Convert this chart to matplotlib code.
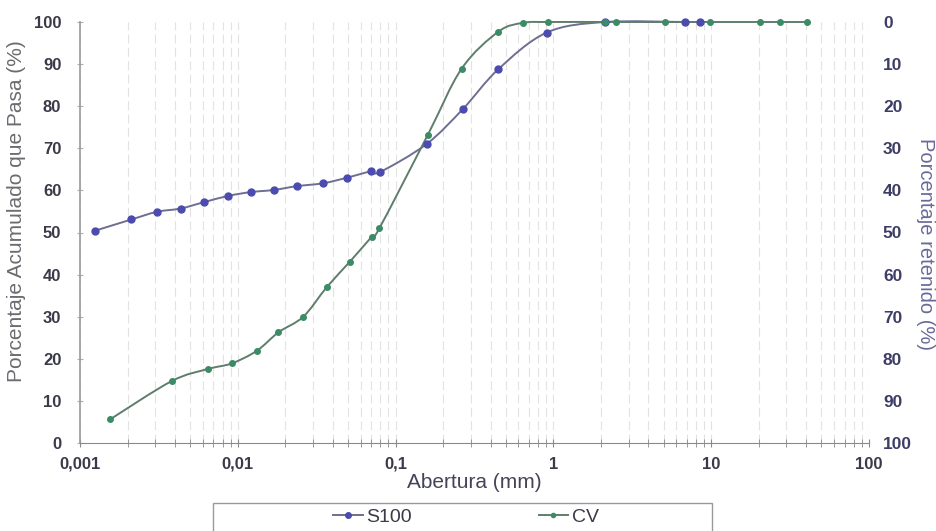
import numpy as np
import matplotlib
matplotlib.use("Agg")
import matplotlib.pyplot as plt
from matplotlib.path import Path
from matplotlib.patches import PathPatch, Rectangle
from matplotlib.ticker import FixedLocator, LogLocator, NullFormatter

plt.rcParams['font.family'] = ['Liberation Sans', 'DejaVu Sans']

# grain size curves
s100_x = [0.00124, 0.00212, 0.00306, 0.00434, 0.0061, 0.0087, 0.0121, 0.0169,
          0.0236, 0.0348, 0.049, 0.0695, 0.080, 0.157, 0.268, 0.448, 0.908,
          2.12, 6.8, 8.5]
s100_y = [50.4, 53.1, 54.9, 55.7, 57.2, 58.7, 59.6, 60.1, 61.0, 61.7, 63.0,
          64.5, 64.4, 71.0, 79.4, 88.8, 97.5, 100, 100, 100]

cv_x = [0.00155, 0.00381, 0.0065, 0.00914, 0.0132, 0.0181, 0.026, 0.0366,
        0.0514, 0.0706, 0.0789, 0.160, 0.262, 0.448, 0.644, 0.93, 2.12, 2.5,
        5.1, 9.8, 20.4, 27.3, 40.3]
cv_y = [5.6, 14.7, 17.6, 18.9, 21.9, 26.3, 30.0, 37.0, 43.1, 49.0, 51.0, 73.2,
        88.9, 97.7, 99.8, 100, 100, 100, 100, 100, 100, 100, 100]

x_ticks = [0.001, 0.01, 0.1, 1, 10, 100]
x_labels = ["0,001", "0,01", "0,1", "1", "10", "100"]
y_ticks = list(range(0, 101, 10))


def smooth_path(xs, ys):
    # Excel style smoothed line: Catmull-Rom segments as cubic Beziers in log-x space
    lx = np.log10(xs)
    yy = np.asarray(ys, dtype=float)
    n = len(lx)
    verts = [(xs[0], yy[0])]
    codes = [Path.MOVETO]
    for i in range(n - 1):
        p0 = max(i - 1, 0)
        p3 = min(i + 2, n - 1)
        c1x = lx[i] + (lx[i + 1] - lx[p0]) / 6
        c1y = yy[i] + (yy[i + 1] - yy[p0]) / 6
        c2x = lx[i + 1] - (lx[p3] - lx[i]) / 6
        c2y = yy[i + 1] - (yy[p3] - yy[i]) / 6
        verts += [(10 ** c1x, c1y), (10 ** c2x, c2y), (xs[i + 1], yy[i + 1])]
        codes += [Path.CURVE4] * 3
    return Path(verts, codes)


fig = plt.figure(figsize=(9.36, 5.31), dpi=100)
ax = fig.add_axes([80 / 936, 1 - 443 / 531, 789 / 936, 421 / 531])

ax.set_xscale("log")
ax.set_xlim(0.001, 100)
ax.set_ylim(0, 100)

s100_line = "#6e6e92"
s100_mark = "#4b4bb0"
cv_line = "#5f7d6c"
cv_mark = "#3b8c66"

ax.add_patch(PathPatch(smooth_path(s100_x, s100_y), fill=False,
                       edgecolor=s100_line, lw=1.4, zorder=3, clip_on=False))
ax.add_patch(PathPatch(smooth_path(cv_x, cv_y), fill=False,
                       edgecolor=cv_line, lw=1.4, zorder=3, clip_on=False))
ax.plot(s100_x, s100_y, linestyle="none", marker="o", ms=5,
        color=s100_mark, zorder=4, clip_on=False)
ax.plot(cv_x, cv_y, linestyle="none", marker="o", ms=4,
        color=cv_mark, zorder=4, clip_on=False)

# axes look
for side in ["top", "right"]:
    ax.spines[side].set_visible(False)
ax.spines["left"].set_color("#9a9a9a")
ax.spines["bottom"].set_color("#8a8a8a")
ax.spines["left"].set_linewidth(1.2)

ax.xaxis.set_major_locator(FixedLocator(x_ticks))
ax.set_xticklabels(x_labels)
ax.xaxis.set_minor_locator(LogLocator(base=10, subs=np.arange(2, 10)))
ax.xaxis.set_minor_formatter(NullFormatter())
ax.set_yticks(y_ticks)

ax.tick_params(axis="x", which="both", direction="inout", length=6,
               color="#8a8a8a", labelsize=12, labelcolor="#3a3a48", pad=7)
ax.tick_params(axis="y", direction="inout", length=5, color="#b0b0b0",
               labelsize=12, labelcolor="#3a3a48", pad=11)
for lab in ax.get_xticklabels() + ax.get_yticklabels():
    lab.set_fontweight("bold")

ax.grid(True, which="both", axis="x", linestyle=(0, (8, 4)),
        color="#e2e2e2", lw=0.8)
ax.set_axisbelow(True)

ax.set_xlabel("Abertura (mm)", fontsize=15, color="#45455a", labelpad=1)

# right axis: percent retained
ax2 = ax.twinx()
ax2.set_ylim(100, 0)
ax2.set_yticks(y_ticks)
for side in ["top", "right", "left", "bottom"]:
    ax2.spines[side].set_visible(False)
ax2.tick_params(axis="y", length=0, pad=10, labelsize=12.5, labelcolor="#3d3d66")
for lab in ax2.get_yticklabels():
    lab.set_fontweight("bold")

fig.text(17 / 936, 1 - 211 / 531, "Porcentaje Acumulado que Pasa (%)",
         rotation=90, ha="center", va="center", fontsize=15, color="#6b6b70")
fig.text(926 / 936, 1 - 244 / 531, "Porcentaje retenido (%)",
         rotation=-90, ha="center", va="center", fontsize=14.5, color="#6a6a9a")

# legend box, cut off at the bottom of the scan
fig.patches.append(Rectangle((213 / 936, -0.05), 499 / 936, (531 - 503) / 531 + 0.05,
                             transform=fig.transFigure, fill=False,
                             edgecolor="#9a9a9a", lw=1.0))
h1, = ax.plot([], [], color=s100_line, marker="o", ms=4, mfc=s100_mark,
              mec=s100_mark, lw=1.4)
h2, = ax.plot([], [], color=cv_line, marker="o", ms=3, mfc=cv_mark,
              mec=cv_mark, lw=1.4)
fig.legend([h1, h2], ["S100", "CV"], loc="center", ncol=2, frameon=False,
           bbox_to_anchor=(466 / 936, 1 - 517 / 531), fontsize=14,
           handlelength=1.5, handletextpad=0.2, columnspacing=6.5,
           labelcolor="#3a3a48")

fig.savefig("out.png", dpi=100)
